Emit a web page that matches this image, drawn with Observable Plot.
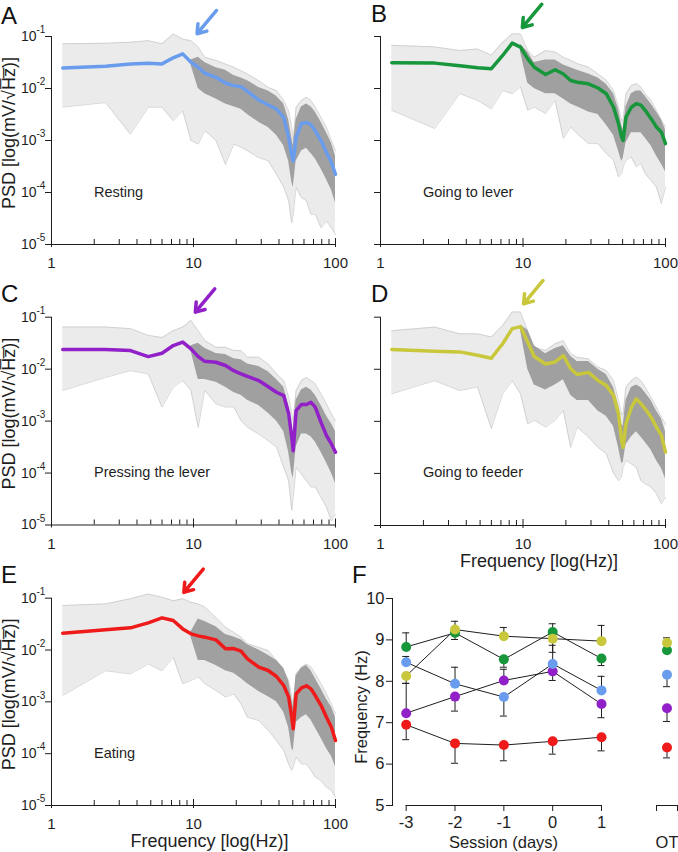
<!DOCTYPE html>
<html><head><meta charset="utf-8">
<script src="https://cdn.jsdelivr.net/npm/d3@7"></script>
<script src="https://cdn.jsdelivr.net/npm/@observablehq/plot@0.6"></script>
<style>
body{margin:0;background:#fff}
#fig{position:relative;width:678px;height:852px;overflow:hidden;background:#fff;font-family:"Liberation Sans",Arial,sans-serif;color:#1e1e1e}
#fig svg{position:absolute;overflow:visible}
.letter{position:absolute;font-size:24px;line-height:1;color:#111}
</style></head><body><div id="fig"></div>
<script>
const FONT = '"Liberation Sans", Arial, sans-serif';
const INK = "#1e1e1e";

// ---- labels / ticks ----
const panelLetters = ["A", "B", "C", "D", "E", "F"];
const behaviors = ["Resting", "Going to lever", "Pressing the lever", "Going to feeder", "Eating"];
const colors = ["#6a9cee", "#17963b", "#9120c9", "#c9c73c", "#ef1a1a"];
const psdYTitle = "PSD [log(mV/\u221AH\u0305z\u0305)]";
const freqXTitle = "Frequency [log(Hz)]";
const fYTitle = "Frequency (Hz)";
const fXTitle = "Session (days)";
const otLabel = "OT";
const freqDomain = [1, 100];
const psdDomain = [1e-5, 1e-1];
const psdTicks = [1e-1, 1e-2, 1e-3, 1e-4, 1e-5];
const psdTickExp = ["-1", "-2", "-3", "-4", "-5"];
const freqMajorTicks = [1, 10, 100];
const freqMinorTicks = [2, 3, 4, 5, 6, 7, 8, 9, 20, 30, 40, 50, 60, 70, 80, 90];
const hzDomain = [5, 10];
const hzTicks = [5, 6, 7, 8, 9, 10];
// OT column: bracket ends and centre (in its own small axis)
const otBracket = [-1, 1];
const otCenter = 0;

// ---- PSD spectra: frequency grid (Hz) and log10(PSD) values ----
const freqHz = [1.2, 2.4, 3.6, 4.8, 6, 7.2, 8.4, 9.6, 10.8, 12, 14.4, 16.8, 19.2, 21.6, 24, 28.8, 33.6, 38.4, 43.2, 46.8, 49.2, 50.4, 52.8, 57.6, 62.4, 67.2, 72, 79.2, 86.4, 93.6, 100];
const coreFreqHz = freqHz.slice(7);

const restingMean = [-1.605,-1.572,-1.527,-1.514,-1.527,-1.41,-1.334,-1.495,-1.59,-1.707,-1.785,-1.894,-1.945,-1.965,-2.055,-2.222,-2.318,-2.395,-2.556,-2.942,-3.296,-3.392,-2.942,-2.672,-2.653,-2.698,-2.814,-3.006,-3.232,-3.424,-3.65];
const restingUpper = [-1.14,-1.13,-1.11,-1.08,-1.14,-0.95,-1.05,-1.08,-1.2,-1.4,-1.46,-1.53,-1.59,-1.66,-1.72,-1.85,-1.98,-2.04,-2.23,-2.43,-2.75,-3.0,-2.36,-2.23,-2.17,-2.23,-2.36,-2.56,-2.75,-3.0,-3.2];
const restingLower = [-2.36,-2.27,-2.88,-2.36,-2.36,-2.62,-2.43,-3.0,-3.07,-2.81,-3.0,-3.46,-3.07,-3.13,-3.2,-3.33,-3.39,-3.65,-3.9,-4.16,-4.58,-4.42,-3.9,-4.1,-4.16,-4.42,-4.42,-4.68,-4.55,-4.68,-4.81];
const restingCoreUpper = [-1.45,-1.4,-1.5,-1.6,-1.65,-1.75,-1.8,-1.85,-1.98,-2.05,-2.15,-2.3,-2.6,-2.95,-3.1,-2.6,-2.35,-2.3,-2.35,-2.45,-2.65,-2.85,-3.05,-3.3];
const restingCoreLower = [-1.55,-2.0,-2.1,-2.2,-2.3,-2.35,-2.4,-2.5,-2.65,-2.75,-2.9,-3.1,-3.4,-3.8,-3.9,-3.4,-3.2,-3.15,-3.25,-3.35,-3.55,-3.75,-3.95,-4.2];

const leverMean = [-1.506,-1.512,-1.563,-1.60,-1.62,-1.365,-1.128,-1.205,-1.43,-1.59,-1.73,-1.64,-1.72,-1.845,-1.88,-1.91,-1.99,-2.1,-2.36,-2.68,-2.93,-3.0,-2.55,-2.36,-2.29,-2.32,-2.42,-2.58,-2.74,-2.84,-3.06];
const leverUpper = [-1.17,-1.2,-1.27,-1.24,-1.36,-1.11,-0.95,-0.95,-1.27,-1.4,-1.27,-1.3,-1.4,-1.46,-1.52,-1.59,-1.72,-1.84,-2.04,-2.36,-2.61,-2.61,-2.1,-1.94,-1.91,-1.97,-2.1,-2.23,-2.42,-2.61,-2.74];
const leverLower = [-2.42,-2.77,-2.1,-2.23,-2.39,-2.04,-2.1,-1.97,-2.42,-2.36,-2.48,-2.23,-2.96,-2.74,-2.87,-3.06,-3.06,-3.25,-3.38,-3.7,-3.64,-3.51,-3.38,-3.32,-3.51,-3.44,-3.64,-3.77,-3.9,-4.21,-3.9];
const leverCoreUpper = [-1.15,-1.3,-1.5,-1.45,-1.45,-1.55,-1.6,-1.65,-1.72,-1.8,-1.92,-2.1,-2.4,-2.7,-2.8,-2.35,-2.1,-2.05,-2.05,-2.15,-2.3,-2.45,-2.6,-2.8];
const leverCoreLower = [-1.3,-1.9,-2.0,-2.1,-2.1,-2.2,-2.3,-2.35,-2.45,-2.5,-2.7,-2.9,-3.2,-3.4,-3.35,-3.05,-2.85,-2.85,-2.85,-2.95,-3.1,-3.3,-3.45,-3.6];

const pressingMean = [-1.623,-1.623,-1.642,-1.758,-1.693,-1.546,-1.48,-1.61,-1.758,-1.85,-1.867,-1.93,-2.03,-2.09,-2.14,-2.22,-2.34,-2.445,-2.51,-2.86,-3.31,-3.57,-2.8,-2.68,-2.68,-2.64,-2.73,-3.03,-3.28,-3.44,-3.6];
const pressingUpper = [-1.19,-1.19,-1.22,-1.35,-1.39,-1.26,-1.19,-1.06,-1.26,-1.45,-1.58,-1.58,-1.64,-1.64,-1.77,-1.77,-1.9,-2.09,-2.22,-2.54,-2.86,-2.99,-2.41,-2.22,-2.16,-2.22,-2.28,-2.48,-2.67,-2.86,-2.99];
const pressingLower = [-2.41,-2.16,-2.03,-2.09,-2.73,-2.35,-2.22,-2.41,-3.12,-2.41,-2.67,-2.73,-2.73,-2.99,-3.12,-3.25,-3.38,-3.5,-3.89,-4.15,-4.72,-4.47,-3.89,-4.02,-4.15,-4.27,-4.27,-4.47,-4.66,-4.92,-4.79];
const pressingCoreUpper = [-1.55,-1.5,-1.6,-1.7,-1.72,-1.8,-1.82,-1.9,-1.95,-2.05,-2.2,-2.35,-2.7,-3.1,-3.2,-2.6,-2.4,-2.35,-2.4,-2.5,-2.7,-2.9,-3.05,-3.2];
const pressingCoreLower = [-1.65,-2.2,-2.2,-2.25,-2.35,-2.45,-2.5,-2.6,-2.7,-2.85,-3.0,-3.2,-3.6,-4.0,-4.1,-3.5,-3.25,-3.25,-3.3,-3.4,-3.6,-3.8,-4.0,-4.2];

const feederMean = [-1.62,-1.653,-1.666,-1.73,-1.787,-1.51,-1.22,-1.18,-1.48,-1.755,-1.9,-1.86,-1.736,-1.99,-2.10,-2.06,-2.216,-2.31,-2.5,-2.86,-3.37,-3.5,-3.05,-2.73,-2.57,-2.66,-2.76,-2.92,-3.11,-3.27,-3.59];
const feederUpper = [-1.26,-1.19,-1.32,-1.32,-1.38,-1.16,-0.9,-0.9,-1.26,-1.58,-1.64,-1.51,-1.45,-1.7,-1.77,-1.8,-1.96,-2.02,-2.22,-2.6,-2.86,-2.86,-2.34,-2.22,-2.15,-2.22,-2.34,-2.54,-2.73,-2.92,-3.05];
const feederLower = [-2.47,-2.22,-2.41,-2.34,-3.14,-2.47,-2.22,-2.47,-3.05,-2.98,-3.11,-2.98,-2.79,-3.5,-3.11,-3.3,-3.5,-3.62,-4.0,-4.14,-4.07,-3.88,-3.75,-3.82,-3.88,-4.14,-4.2,-4.26,-4.39,-4.58,-4.46];
const feederCoreUpper = [-1.15,-1.25,-1.55,-1.7,-1.6,-1.55,-1.75,-1.85,-1.85,-2.0,-2.1,-2.35,-2.7,-3.05,-3.1,-2.6,-2.35,-2.3,-2.35,-2.45,-2.6,-2.8,-2.95,-3.2];
const feederCoreLower = [-1.25,-2.0,-2.3,-2.4,-2.3,-2.2,-2.5,-2.6,-2.6,-2.8,-2.9,-3.1,-3.5,-3.8,-3.8,-3.45,-3.3,-3.2,-3.3,-3.4,-3.55,-3.75,-3.9,-4.1];

const eatingMean = [-1.675,-1.611,-1.572,-1.476,-1.379,-1.431,-1.592,-1.688,-1.727,-1.752,-1.804,-1.977,-1.971,-2.023,-2.17,-2.331,-2.395,-2.511,-2.685,-2.91,-3.296,-3.521,-2.846,-2.73,-2.691,-2.749,-2.878,-3.071,-3.296,-3.489,-3.746];
const eatingUpper = [-1.14,-1.11,-1.01,-0.92,-0.98,-1.05,-1.01,-1.08,-1.11,-1.17,-1.37,-1.56,-1.66,-1.75,-1.88,-1.95,-2.01,-2.2,-2.4,-2.59,-2.91,-3.04,-2.46,-2.33,-2.27,-2.33,-2.46,-2.65,-2.85,-3.04,-3.23];
const eatingLower = [-2.88,-2.4,-2.46,-2.27,-2.4,-2.14,-2.65,-2.59,-2.52,-2.65,-2.78,-2.91,-2.85,-3.04,-3.3,-3.36,-3.55,-3.75,-3.94,-4.2,-4.32,-4.26,-4.07,-4.2,-4.2,-4.32,-4.45,-4.52,-4.65,-4.71,-4.84];
const eatingCoreUpper = [-1.65,-1.4,-1.45,-1.55,-1.7,-1.75,-1.8,-1.9,-2.0,-2.1,-2.2,-2.35,-2.6,-2.95,-3.1,-2.5,-2.35,-2.3,-2.4,-2.55,-2.75,-2.95,-3.1,-3.3];
const eatingCoreLower = [-1.75,-2.2,-2.2,-2.3,-2.4,-2.45,-2.55,-2.65,-2.8,-2.9,-3.0,-3.2,-3.5,-3.9,-3.95,-3.4,-3.3,-3.25,-3.35,-3.5,-3.7,-3.9,-4.05,-4.25];

// arrow targets (frequency, PSD at arrow tip)
const arrowTipHz = [10.6, 9.9, 10.3, 10.1, 8.55];
const arrowTipPsd = [0.113, 0.149, 0.125, 0.181, 0.13];

// ---- panel F: peak frequency per session ----
const sessionDays = [-3, -2, -1, 0, 1];
const restingHz = [8.46, 7.94, 7.62, 8.42, 7.78];
const restingErrHz = [8.60, 8.34, 7.16, 8.87, 8.12];
const leverHz = [8.83, 9.17, 8.53, 9.19, 8.55];
const leverErrHz = [9.17, 9.01, 8.34, 9.39, 8.38];
const pressingHz = [7.23, 7.63, 8.02, 8.24, 7.45];
const pressingErrHz = [7.95, 7.28, 8.29, 8.02, 7.12];
const feederHz = [8.13, 9.25, 9.09, 9.03, 8.97];
const feederErrHz = [7.95, 9.45, 9.30, 8.70, 9.35];
const eatingHz = [6.95, 6.50, 6.46, 6.55, 6.65];
const eatingErrHz = [6.59, 6.02, 6.08, 6.24, 6.32];
// OT values, in behaviour order
const otHz = [8.16, 8.75, 7.35, 8.93, 6.40];
const otErrHz = [7.87, 8.75, 7.03, 9.05, 6.15];

// ---------------------------------------------------------------
const fig = document.getElementById("fig");
const baseStyle = {background: "transparent", overflow: "visible", fontFamily: FONT, fontSize: "14px", color: INK};

function place(svg, left, top) {
  svg.style.left = left + "px";
  svg.style.top = top + "px";
  fig.appendChild(svg);
}

const psdPanels = [
  {mean: restingMean, upper: restingUpper, lower: restingLower, cu: restingCoreUpper, cl: restingCoreLower,
   g: {left: 0, top: 0, width: 340, height: 280, ml: 51, mr: 5, mt: 36, mb: 36}, yLabels: true, xTitle: false},
  {mean: leverMean, upper: leverUpper, lower: leverLower, cu: leverCoreUpper, cl: leverCoreLower,
   g: {left: 340, top: 0, width: 338, height: 280, ml: 40, mr: 13, mt: 36, mb: 36}, yLabels: false, xTitle: false},
  {mean: pressingMean, upper: pressingUpper, lower: pressingLower, cu: pressingCoreUpper, cl: pressingCoreLower,
   g: {left: 0, top: 280, width: 340, height: 280, ml: 51, mr: 5, mt: 36.7, mb: 35.5}, yLabels: true, xTitle: false},
  {mean: feederMean, upper: feederUpper, lower: feederLower, cu: feederCoreUpper, cl: feederCoreLower,
   g: {left: 340, top: 280, width: 338, height: 280, ml: 40, mr: 13, mt: 36.7, mb: 35}, yLabels: false, xTitle: true},
  {mean: eatingMean, upper: eatingUpper, lower: eatingLower, cu: eatingCoreUpper, cl: eatingCoreLower,
   g: {left: 0, top: 560, width: 340, height: 292, ml: 51, mr: 5, mt: 37.7, mb: 47}, yLabels: true, xTitle: true}
];

psdPanels.forEach((p, k) => {
  const rows = freqHz.map((f, i) => ({f, mean: 10 ** p.mean[i], hi: 10 ** p.upper[i], lo: 10 ** p.lower[i]}));
  const core = coreFreqHz.map((f, i) => ({f, hi: 10 ** p.cu[i], lo: 10 ** p.cl[i]}));
  const arrow = [{f: arrowTipHz[k], psd: arrowTipPsd[k]}];
  const color = colors[k];
  const marks = [
    Plot.areaY(rows, {x: "f", y1: "lo", y2: "hi", fill: "#ebebeb"}),
    Plot.line(rows, {x: "f", y: "hi", stroke: "#bdbdbd", strokeWidth: 0.6}),
    Plot.line(rows, {x: "f", y: "lo", stroke: "#bdbdbd", strokeWidth: 0.6}),
    Plot.areaY(core, {x: "f", y1: "lo", y2: "hi", fill: "#8a8a8a", fillOpacity: 0.78}),
    Plot.line(rows, {x: "f", y: "mean", stroke: color, strokeWidth: 3.5, strokeLinejoin: "round", strokeLinecap: "round"}),
    Plot.ruleX(freqDomain.slice(0, 1), {stroke: INK}),
    Plot.ruleY(psdDomain.slice(0, 1), {stroke: INK}),
    Plot.axisY({ticks: psdTicks, tickSize: 6, tickFormat: () => "", label: null}),
    Plot.axisX({ticks: freqMajorTicks, tickSize: 9, dy: -6, tickFormat: () => "", label: null}),
    Plot.axisX({ticks: freqMinorTicks, tickSize: 5, dy: -5, tickFormat: () => "", label: null}),
    Plot.axisX({ticks: freqMajorTicks, tickSize: 0, tickPadding: 13, tickFormat: d => String(d), fontSize: 15, label: null}),
    Plot.text([behaviors[k]], {text: d => d, frameAnchor: "top-left", dx: 42.5, dy: 155.5, textAnchor: "start", lineAnchor: "middle", fontSize: 14.5, fill: INK}),
    Plot.arrow(arrow, {x1: d => d.f * 1.37, y1: d => d.psd * 2.8, x2: "f", y2: "psd", stroke: color, strokeWidth: 3.5, headLength: 9, headAngle: 70})
  ];
  if (p.yLabels) {
    marks.push(
      Plot.text(psdTicks, {y: d => d, text: () => "10", frameAnchor: "left", textAnchor: "end", lineAnchor: "middle", dx: -15, fontSize: 14, fill: INK}),
      Plot.text(psdTicks, {y: d => d, text: (d, i) => psdTickExp[i], frameAnchor: "left", textAnchor: "start", lineAnchor: "middle", dx: -15, dy: -6.5, fontSize: 10, fill: INK}),
      Plot.text([psdYTitle], {text: d => d, frameAnchor: "left", rotate: -90, textAnchor: "middle", lineAnchor: "middle", dx: -42, dy: -7.5, fontSize: 18, fill: INK})
    );
  }
  if (p.xTitle) {
    marks.push(Plot.text([freqXTitle], {text: d => d, frameAnchor: "bottom", textAnchor: "middle", lineAnchor: "middle", dx: 16, dy: 36, fontSize: 18, fill: INK}));
  }
  const g = p.g;
  const svg = Plot.plot({
    width: g.width, height: g.height,
    marginLeft: g.ml, marginRight: g.mr, marginTop: g.mt, marginBottom: g.mb,
    style: baseStyle,
    x: {type: "log", domain: freqDomain, label: null},
    y: {type: "log", domain: psdDomain, label: null},
    marks
  });
  place(svg, g.left, g.top);
});

// ---- Panel F ----
const fHz = [restingHz, leverHz, pressingHz, feederHz, eatingHz];
const fErr = [restingErrHz, leverErrHz, pressingErrHz, feederErrHz, eatingErrHz];
const drawOrder = [4, 2, 0, 1, 3];
const fRows = [];
drawOrder.forEach(k => sessionDays.forEach((d, i) => fRows.push({b: behaviors[k], day: d, hz: fHz[k][i], err: fErr[k][i]})));
const otRows = drawOrder.map(k => ({b: behaviors[k], pos: otCenter, hz: otHz[k], err: otErrHz[k]}));

const fSvg = Plot.plot({
  width: 278, height: 292, marginLeft: 52, marginRight: 17, marginTop: 38, marginBottom: 47,
  style: baseStyle,
  x: {domain: d3.extent(sessionDays), insetLeft: 13.7, label: null},
  y: {domain: hzDomain, label: null},
  color: {domain: behaviors, range: colors},
  marks: [
    Plot.frame({anchor: "left", stroke: INK}),
    Plot.ruleY(hzDomain.slice(0, 1), {x1: () => sessionDays[0], x2: () => sessionDays[sessionDays.length - 1], stroke: INK}),
    Plot.axisX({ticks: sessionDays, tickSize: 6, tickPadding: 5, tickFormat: d => String(d), fontSize: 16.5, label: null}),
    Plot.axisY({ticks: hzTicks, tickSize: 6, tickPadding: 2, tickFormat: d => String(d), fontSize: 16.5, label: null}),
    Plot.line(fRows, {x: "day", y: "hz", z: "b", stroke: INK, strokeWidth: 1}),
    Plot.ruleX(fRows, {x: "day", y1: "hz", y2: "err", stroke: INK, strokeWidth: 1}),
    Plot.ruleY(fRows, {y: "err", x1: "day", x2: "day", insetLeft: -3.5, insetRight: -3.5, stroke: INK, strokeWidth: 1}),
    Plot.dot(fRows, {x: "day", y: "hz", fill: "b", r: 5}),
    Plot.text([fYTitle], {text: d => d, frameAnchor: "left", rotate: -90, textAnchor: "middle", lineAnchor: "middle", dx: -31, dy: 5, fontSize: 16.5, fill: INK}),
    Plot.text([fXTitle], {text: d => d, frameAnchor: "bottom", textAnchor: "middle", lineAnchor: "middle", dx: 6.5, dy: 37, fontSize: 16.5, fill: INK})
  ]
});
place(fSvg, 340, 560);

const otSvg = Plot.plot({
  width: 38, height: 292, marginLeft: 16, marginRight: 1, marginTop: 38, marginBottom: 47,
  style: baseStyle,
  x: {domain: otBracket, label: null},
  y: {domain: hzDomain, label: null, axis: null},
  color: {domain: behaviors, range: colors},
  marks: [
    Plot.ruleY(hzDomain.slice(0, 1), {stroke: INK}),
    Plot.axisX({ticks: otBracket, tickSize: 6, tickFormat: () => "", label: null}),
    Plot.axisX({ticks: [otCenter], tickSize: 0, tickPadding: 31, tickFormat: () => otLabel, fontSize: 16.5, label: null}),
    Plot.ruleX(otRows, {x: "pos", y1: "hz", y2: "err", stroke: INK, strokeWidth: 1}),
    Plot.ruleY(otRows, {y: "err", x1: "pos", x2: "pos", insetLeft: -3.5, insetRight: -3.5, stroke: INK, strokeWidth: 1}),
    Plot.dot(otRows, {x: "pos", y: "hz", fill: "b", r: 5})
  ]
});
place(otSvg, 640, 560);

// ---- panel letters ----
const letterPos = [[1, 4], [371, 2], [1, 282], [371, 282], [1, 563], [352, 563]];
panelLetters.forEach((t, i) => {
  const d = document.createElement("div");
  d.className = "letter";
  d.textContent = t;
  d.style.left = letterPos[i][0] + "px";
  d.style.top = letterPos[i][1] + "px";
  fig.appendChild(d);
});
</script></body></html>
